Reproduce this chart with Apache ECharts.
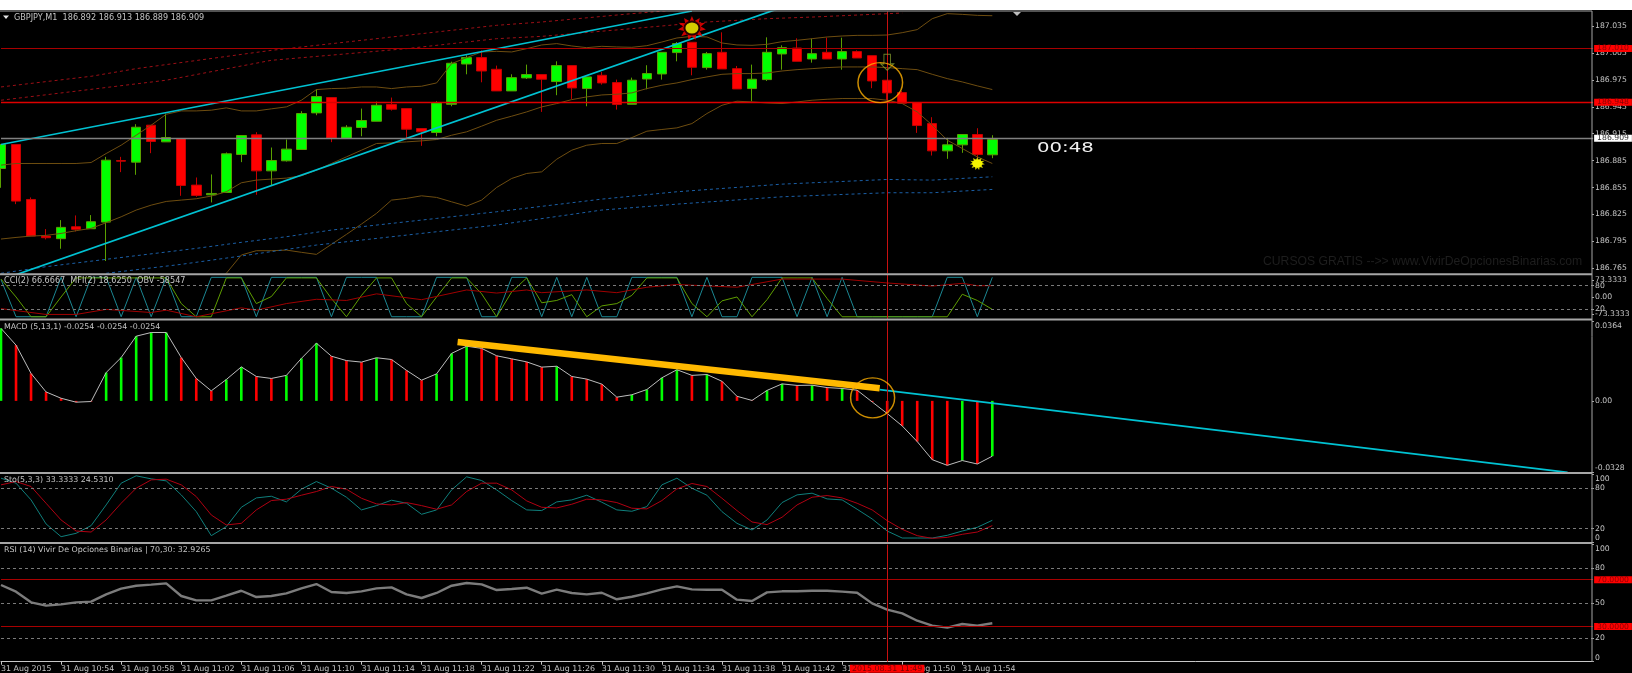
<!DOCTYPE html>
<html><head><meta charset="utf-8">
<style>html,body{margin:0;padding:0;background:#000;overflow:hidden}#c{width:1632px;height:673px}</style>
<script src="https://cdn.jsdelivr.net/npm/echarts@6/dist/echarts.min.js"></script>
</head><body><div id="c"></div>
<script>
// ---------- data ----------
const tickLabels = ['31 Aug 2015','31 Aug 10:54','31 Aug 10:58','31 Aug 11:02','31 Aug 11:06','31 Aug 11:10','31 Aug 11:14','31 Aug 11:18','31 Aug 11:22','31 Aug 11:26','31 Aug 11:30','31 Aug 11:34','31 Aug 11:38','31 Aug 11:42','31 Aug 11:46','31 Aug 11:50','31 Aug 11:54'];
const priceTicks = [186.765,186.795,186.825,186.855,186.885,186.915,186.945,186.975,187.005,187.035];
// open, close, low, high
const candles = [
[186.8762,186.9030,186.8547,186.9030],[186.9030,186.8399,186.8365,186.9030],[186.8417,186.8009,186.8009,186.8440],[186.8009,186.7991,186.7972,186.8087],
[186.7980,186.8106,186.7868,186.8187],[186.8113,186.8084,186.8061,186.8239],[186.8091,186.8169,186.8091,186.8243],[186.8165,186.8855,186.7731,186.8892],
[186.8851,186.8844,186.8722,186.8892],[186.8833,186.9222,186.8692,186.9256],[186.9245,186.9063,186.8933,186.9245],[186.9059,186.9107,186.9059,186.9375],
[186.9096,186.8573,186.8458,186.9096],[186.8577,186.8462,186.8447,186.8662],[186.8469,186.8484,186.8384,186.8696],[186.8495,186.8926,186.8495,186.8941],
[186.8918,186.9130,186.8833,186.9133],[186.9137,186.8736,186.8469,186.9167],[186.8736,186.8851,186.8577,186.8996],[186.8848,186.8978,186.8840,186.9085],
[186.8974,186.9375,186.8974,186.9401],[186.9382,186.9564,186.9356,186.9645],[186.9553,186.9100,186.9056,186.9553],[186.9100,186.9222,186.9093,186.9245],
[186.9219,186.9297,186.9122,186.9430],[186.9289,186.9467,186.9289,186.9508],[186.9475,186.9423,186.9408,186.9553],[186.9430,186.9200,186.9104,186.9430],
[186.9208,186.9171,186.9015,186.9208],[186.9163,186.9497,186.9122,186.9512],[186.9478,186.9935,186.9456,186.9953],[186.9927,186.9998,186.9812,187.0024],
[186.9998,186.9849,186.9723,187.0079],[186.9868,186.9627,186.9627,186.9909],[186.9627,186.9775,186.9627,186.9812],[186.9772,186.9809,186.9760,186.9920],
[186.9809,186.9757,186.9393,186.9809],[186.9731,186.9909,186.9579,186.9957],[186.9909,186.9660,186.9538,186.9909],[186.9653,186.9783,186.9456,186.9783],
[186.9801,186.9716,186.9697,186.9838],[186.9720,186.9475,186.9419,186.9753],[186.9478,186.9746,186.9478,186.9775],[186.9760,186.9820,186.9645,186.9913],
[186.9816,187.0057,186.9753,187.0057],[187.0054,187.0154,186.9957,187.0172],[187.0169,186.9890,186.9801,187.0169],[186.9887,187.0042,186.9864,187.0061],
[187.0057,186.9872,186.9872,187.0280],[186.9875,186.9649,186.9649,186.9905],[186.9653,186.9757,186.9512,186.9920],[186.9753,187.0057,186.9738,187.0224],
[187.0039,187.0109,186.9864,187.0135],[187.0105,186.9957,186.9957,187.0213],[186.9983,187.0042,186.9942,187.0209],[187.0057,186.9983,186.9983,187.0220],
[186.9983,187.0065,186.9864,187.0220],[187.0065,186.9994,186.9994,187.0079],[187.0020,186.9738,186.9657,187.0020],[186.9746,186.9605,186.9523,186.9746],
[186.9608,186.9490,186.9490,186.9627],[186.9497,186.9241,186.9159,186.9497],[186.9263,186.8959,186.8907,186.9334],[186.8959,186.9026,186.8870,186.9104],
[186.9026,186.9141,186.8937,186.9141],[186.9141,186.8918,186.8885,186.9211],[186.8915,186.9085,186.8877,186.9133]];
const bandUpper = [186.8800,186.8818,186.8818,186.8818,186.8818,186.8818,186.8829,186.8929,186.9022,186.9133,186.9245,186.9367,186.9404,186.9404,186.9412,186.9438,186.9404,186.9404,186.9427,186.9449,186.9523,186.9642,186.9653,186.9657,186.9671,186.9671,186.9653,186.9671,186.9679,186.9716,186.9931,186.9998,187.0061,187.0068,187.0061,187.0098,187.0139,187.0154,187.0128,187.0109,187.0124,187.0117,187.0113,187.0131,187.0172,187.0217,187.0235,187.0228,187.0161,187.0139,187.0135,187.0146,187.0176,187.0191,187.0209,187.0228,187.0239,187.0246,187.0246,187.0250,187.0276,187.0310,187.0432,187.0488,187.0480,187.0469,187.0465];
const bandMiddle = [186.7976,186.7994,186.8009,186.8017,186.8039,186.8069,186.8095,186.8158,186.8224,186.8299,186.8354,186.8395,186.8410,186.8425,186.8455,186.8503,186.8603,186.8633,186.8644,186.8655,186.8681,186.8744,186.8818,186.8892,186.8966,186.9041,186.9048,186.9059,186.9070,186.9085,186.9133,186.9171,186.9234,186.9300,186.9345,186.9393,186.9449,186.9486,186.9530,186.9560,186.9582,186.9590,186.9605,186.9653,186.9690,186.9716,186.9753,186.9783,186.9812,186.9820,186.9820,186.9827,186.9849,186.9864,186.9875,186.9887,186.9894,186.9894,186.9894,186.9887,186.9875,186.9864,186.9812,186.9764,186.9727,186.9683,186.9642];
const bandLowerStart = 14;
const bandLower = [186.7445,186.7594,186.7798,186.7846,186.7846,186.7853,186.7828,186.7805,186.7917,186.8028,186.8143,186.8262,186.8410,186.8429,186.8458,186.8440,186.8391,186.8343,186.8410,186.8551,186.8651,186.8707,186.8725,186.8866,186.8966,186.9022,186.9041,186.9041,186.9107,186.9178,186.9197,186.9215,186.9263,186.9375,186.9467,186.9512,186.9504,186.9493,186.9486,186.9504,186.9523,186.9534,186.9542,186.9542,186.9542,186.9523,186.9486,186.9393,186.9245,186.9078,186.8985,186.8892,186.8818];
const envRedUpper = [[0,186.9671],[6,186.9790],[9,186.9875],[18,187.0079],[33,187.0358],[36,187.0395],[42,187.0488],[46,187.0543]];
const envRedLower = [[0,186.9523],[11,186.9746],[18,186.9968],[27,187.0098],[33,187.0209],[36,187.0235],[42,187.0321],[47,187.0395],[51,187.0432],[54,187.0450],[60,187.0495]];
const envBlueUpper = [[0,186.7594],[3,186.7668],[7,186.7750],[13,186.7872],[16,186.7939],[19,186.8002],[22,186.8076],[29,186.8206],[33,186.8280],[40,186.8421],[45,186.8503],[52,186.8588],[59,186.8640],[62,186.8633],[66,186.8670]];
const envBlueLower = [[7,186.7594],[12,186.7694],[16,186.7787],[21,186.7909],[27,186.8020],[33,186.8132],[40,186.8299],[45,186.8365],[52,186.8447],[59,186.8492],[62,186.8492],[66,186.8529]];
const channelUpper = [[0,186.9030],[46,187.0518]];
const channelLower = [[0,186.7520],[52,187.0558]];
const priceLevels = [187.009,186.948,186.909];
const priceLevelLabels = ['187.010','186.948','186.909'];
const sunTop = [[46,187.0328]];
const sunBottom = [[65,186.8818]];
const arrowMark = [[59,186.9946]];
const circleMain = [[58.54,186.9720]];
const circleMacd = [[58.03,0.0014]];
const cursorIndex = 59;
const cursorLabel = '2015.08.31 11:49';

const cci = [75,-85,-85,-85,85,-85,85,85,-85,85,-85,85,-85,-85,85,85,85,-85,85,85,85,85,-85,85,85,85,-85,-85,-85,85,85,85,-85,-85,85,85,-85,85,-85,85,-85,-85,85,85,85,85,-85,85,-85,-85,85,85,85,-85,85,-85,85,-85,-85,-85,-85,-85,-85,85,85,-85,85];
const mfi = [97,51,0,0,51,100,100,100,100,100,100,100,34,0,0,100,100,34,52,100,100,100,47,0,55,100,100,34,0,51,100,100,59,0,64,100,36,42,57,0,28,34,55,100,100,100,34,0,41,51,0,44,100,100,100,47,0,0,0,0,0,0,0,0,58,42,19];
const obvScaled = [[0,21],[3,6],[5,6],[7,19],[10,11],[11,17],[13,0],[16,23],[17,17],[19,34],[21,45],[23,42],[25,59],[28,44],[31,69],[33,61],[35,69],[36,62],[39,69],[41,62],[43,76],[45,83],[49,76],[52,97],[54,97],[56,97],[59,87],[62,79],[64,86],[65,80],[66,80]];
const osc1Ticks = [20,80];
const cciTicks = [-73.3333,0,73.3333];

const macd = [.0333,.0256,.0126,.0041,.0012,-.0006,-.0003,.0130,.0199,.0297,.0314,.0314,.0199,.0103,.0046,.0098,.0156,.0112,.0103,.0117,.0195,.0265,.0205,.0185,.0178,.0198,.0190,.0140,.0095,.0124,.0218,.0251,.0241,.0207,.0193,.0179,.0155,.0159,.0112,.0100,.0077,.0017,.0028,.0052,.0106,.0143,.0117,.0121,.0090,.0021,.0002,.0048,.0078,.0071,.0072,.0061,.0057,.0049,-.0005,-.0058,-.0115,-.0187,-.0270,-.0296,-.0274,-.0290,-.0254];
const macdUp = [1,0,0,0,0,0,0,1,1,1,1,1,0,0,0,1,1,0,0,1,1,1,0,0,0,1,0,0,0,1,1,1,0,0,0,0,0,1,0,0,0,0,1,1,1,1,0,1,0,0,0,1,1,0,1,0,1,0,0,0,0,0,0,0,1,0,1];
const macdTicks = [-0.0328,0,0.0364];
const macdTrendThick = [[30.4,0.0270],[58.5,0.0058]];
const macdTrendThin = [[58.5,0.0052],[104.3,-0.0328]];

const stoK = [94.7,87.3,62.5,26.8,7.9,12.9,24.3,55.0,87.3,98.2,93.7,90.7,69.9,45.1,9.4,22.8,51.5,65.4,67.9,59.5,78.3,89.7,79.8,66.4,47.6,54.0,62.0,57.5,41.1,47.6,77.3,96.7,91.2,77.3,61.5,47.6,46.6,59.5,62.5,69.4,59.0,47.6,45.6,52.5,84.8,94.7,79.8,69.4,45.1,27.7,17.8,32.7,58.5,69.9,72.4,63.9,62.5,48.6,34.2,16.3,5.9,5.9,5.9,9.9,16.3,21.8,32.2];
const stoD = [84.8,89.7,82.3,57.5,32.7,16.3,14.8,32.7,57.5,79.8,92.2,93.2,84.8,67.4,40.1,25.3,27.7,47.6,61.5,63.5,69.4,74.9,82.3,78.3,64.9,56.5,55.0,58.5,54.0,48.6,55.0,74.9,87.3,87.3,77.3,61.0,51.5,50.6,56.0,63.5,62.5,58.5,50.1,49.1,61.5,78.8,86.8,82.3,64.9,46.6,29.7,25.8,36.7,55.0,66.4,68.9,65.4,57.5,47.6,31.7,18.8,9.4,5.4,6.9,11.4,14.8,24.3];
const stoTicks = [0,20,80,100];

const rsi = [65.5,59.8,50.7,47.9,49.0,50.7,51.3,57.5,62.4,64.9,65.8,66.9,56.1,52.4,52.4,56.4,60.6,55.2,56.1,58.4,62.6,66.3,59.5,58.7,60.1,62.6,63.5,57.5,54.4,58.7,64.9,67.2,66.0,61.2,62.1,63.2,58.1,61.5,58.7,57.5,58.9,53.3,55.5,58.4,61.8,64.3,61.8,61.5,61.5,53.0,51.8,59.2,60.1,60.1,60.6,60.6,59.8,58.9,49.8,44.4,41.3,35.0,30.8,29.1,32.2,30.8,32.8];
const rsiTicks = [0,20,50,80,100];
const rsiDashed = [80,50,20];
const rsiLevels = [70,30];
const rsiLevelLabels = ['70.0000','30.0000'];

const headers = {
  main:'GBPJPY,M1  186.892 186.913 186.889 186.909',
  osc:'CCI(2) 66.6667  MFI(2) 18.6250  OBV -58547',
  macd:'MACD (5,13,1) -0.0254 -0.0254 -0.0254',
  sto:'Sto(5,3,3) 33.3333 24.5310',
  rsi:'RSI (14) Vivir De Opciones Binarias | 70,30: 32.9265'
};
const timerText = '00:48';
const watermark = 'CURSOS GRATIS -->> www.VivirDeOpcionesBinarias.com';

// ---------- chart ----------
const SLOT = 106; // category slots on the shared time axis
const categories = Array.from({length:SLOT+1},(_, i)=> (i%4===0 && i/4<tickLabels.length) ? tickLabels[i/4] : '');
const idx = a => a.map((v,k)=>[k,v]);
const TXT = '#c4c4c4', SEP = '#a6a6a6', FONT='"DejaVu Sans"';
const left = 1, width = SLOT*15.02;
const grids = [[11.5,262],[275,44.5],[321.6,150.7],[474.6,67.4],[544.6,117.1]].map(([top,height])=>({left,width,top,height,show:false,containLabel:false,outerBoundsMode:'none'}));

const xAxis = grids.map((g,i)=>({
  type:'category',gridIndex:i,data:categories,boundaryGap:false,show:i===4,
  axisLine:{show:i===4,lineStyle:{color:'#c8c8c8',width:1}},
  axisTick:{show:i===4,length:3,lineStyle:{color:'#c8c8c8'},interval:(n)=>n%4===0&&n<=64},
  axisLabel:{show:i===4,color:TXT,fontFamily:FONT,fontSize:7.9,align:'left',margin:3,
    interval:(n)=>n%4===0&&n<=64,hideOverlap:false},
  splitLine:{show:false}
}));
xAxis.push({type:'value',gridIndex:0,min:0,max:SLOT,show:false,position:'top',axisLine:{onZero:false}});
xAxis.push({type:'value',gridIndex:2,min:0,max:SLOT,show:false,position:'top',axisLine:{onZero:false}});

const yAx = (gridIndex,min,max,ticks,dec,extra)=>Object.assign({
  type:'value',gridIndex,min,max,position:'right',offset:-1.1,scale:true,
  axisLine:{show:false,onZero:false},splitLine:{show:false},
  axisTick:{show:true,length:2,lineStyle:{color:SEP},customValues:ticks},
  axisLabel:{color:TXT,fontFamily:FONT,fontSize:7.7,margin:3,customValues:ticks,
    formatter:v=>Number(v).toFixed(dec)}
},extra||{});
const yAxis = [
  yAx(0,186.7592,187.0512,priceTicks,3),
  yAx(1,-7,107.5,osc1Ticks,0),
  yAx(1,-97,95,cciTicks,4,{axisLabel:{color:TXT,fontFamily:FONT,fontSize:7.7,margin:3,customValues:cciTicks,formatter:v=>v===0?'0.00':Number(v).toFixed(4)}}),
  yAx(2,-0.0328,0.0364,macdTicks,4,{axisLabel:{color:TXT,fontFamily:FONT,fontSize:7.7,margin:3,customValues:macdTicks,verticalAlignMinLabel:'bottom',verticalAlignMaxLabel:'top',formatter:v=>v===0?'0.00':Number(v).toFixed(4)}}),
  yAx(3,0,100,stoTicks,0,{axisLabel:{color:TXT,fontFamily:FONT,fontSize:7.7,margin:3,customValues:stoTicks,verticalAlignMinLabel:'bottom',verticalAlignMaxLabel:'top',formatter:v=>String(v)}}),
  yAx(4,0,100,rsiTicks,0,{axisLabel:{color:TXT,fontFamily:FONT,fontSize:7.7,margin:3,customValues:rsiTicks,verticalAlignMinLabel:'bottom',verticalAlignMaxLabel:'top',formatter:v=>String(v)}})
];

const line = (name,data,xi,yi,color,w,type,z)=>({name,type:'line',xAxisIndex:xi,yAxisIndex:yi,data,showSymbol:false,symbol:'none',smooth:false,z:z||3,
  lineStyle:{color,width:w,type:type||'solid'},silent:true});
const dashGrey = v=>({yAxis:v,lineStyle:{color:'#7a7a7a',width:1,type:[3,3]},label:{show:false}});
const cursor = (label)=>({xAxis:cursorIndex,lineStyle:{color:'#c81010',width:1,type:'solid'},
  label:label?{show:true,position:'start',distance:3,formatter:cursorLabel,color:'#7a0000',backgroundColor:'#ff0000',fontFamily:FONT,fontSize:7.9,padding:[0,2],lineHeight:8}:{show:false}});
const mk = (data)=>({silent:true,symbol:'none',animation:false,z:6,data});
const levelLabel = (txt,bg,fg)=>({show:true,position:'end',distance:1,formatter:txt,color:fg,backgroundColor:bg,fontFamily:FONT,fontSize:7.7,padding:[0,3],lineHeight:7});

const starburst = 'path://M50 0 L58 22 L78 8 L74 30 L98 28 L82 44 L100 56 L78 62 L88 84 L66 76 L62 100 L50 82 L38 100 L34 76 L12 84 L22 62 L0 56 L18 44 L2 28 L26 30 L22 8 L42 22 Z';
const arrowPath = 'path://M25 0 L75 0 L75 60 L100 60 L50 100 L0 60 L25 60 Z';

const series = [
  {name:'GBPJPY',type:'candlestick',xAxisIndex:0,yAxisIndex:0,data:candles,barWidth:10,z:2,clip:false,silent:true,
   itemStyle:{color:'#00ff00',color0:'#ff0000',borderColor:'#5aa000',borderColor0:'#c40000',borderWidth:1},
   markLine:mk([
     {yAxis:priceLevels[0],lineStyle:{color:'#a80000',width:1,type:'solid'},label:levelLabel(priceLevelLabels[0],'#ff0000','#8a0000')},
     {yAxis:priceLevels[1],lineStyle:{color:'#dd0000',width:1.4,type:'solid'},label:levelLabel(priceLevelLabels[1],'#ff0000','#8a0000')},
     {yAxis:priceLevels[2],lineStyle:{color:'#808080',width:1.4,type:'solid'},label:levelLabel(priceLevelLabels[2],'#ffffff','#333333')},
     cursor(false)
   ])},
  line('Band upper',idx(bandUpper),0,0,'#6e4d10',1),
  line('Band middle',idx(bandMiddle),0,0,'#6e4d10',1),
  line('Band lower',bandLower.map((v,k)=>[k+bandLowerStart,v]),0,0,'#6e4d10',1),
  line('Env red 1',envRedUpper,0,0,'#9c0f16',1,[3,3]),
  line('Env red 2',envRedLower,0,0,'#9c0f16',1,[3,3]),
  line('Env blue 1',envBlueUpper,0,0,'#1b5fa6',1,[3,3]),
  line('Env blue 2',envBlueLower,0,0,'#1b5fa6',1,[3,3]),
  line('Channel upper',channelUpper,0,0,'#00c2d2',1.7,'solid',4),
  line('Channel lower',channelLower,0,0,'#00c2d2',1.7,'solid',4),
  {type:'scatter',xAxisIndex:0,yAxisIndex:0,data:sunTop,symbol:starburst,symbolSize:[28,24],z:7,silent:true,itemStyle:{color:'#ff0000'}},
  {type:'scatter',xAxisIndex:0,yAxisIndex:0,data:sunTop,symbol:'circle',symbolSize:[17,15],z:8,silent:true,itemStyle:{color:'#000'}},
  {type:'scatter',xAxisIndex:0,yAxisIndex:0,data:sunTop,symbol:'circle',symbolSize:[13,11],z:9,silent:true,itemStyle:{color:'#ffff00'}},
  {type:'scatter',xAxisIndex:0,yAxisIndex:0,data:sunBottom,symbol:starburst,symbolSize:[15,13],z:9,silent:true,itemStyle:{color:'#ffff00'}},
  {type:'scatter',xAxisIndex:0,yAxisIndex:0,data:sunBottom,symbol:'circle',symbolSize:[10,8],z:9,silent:true,itemStyle:{color:'#ffff00'}},
  {type:'scatter',xAxisIndex:0,yAxisIndex:0,data:arrowMark,symbol:arrowPath,symbolSize:[13,16],z:7,silent:true,itemStyle:{color:'rgba(0,0,0,0)',borderColor:'#86a030',borderWidth:1}},
  {type:'scatter',xAxisIndex:5,yAxisIndex:0,data:circleMain,symbol:'circle',symbolSize:[44.6,40],z:10,clip:false,silent:true,itemStyle:{color:'rgba(0,0,0,0)',borderColor:'#ffb000',borderWidth:1.4}},

  line('CCI',cci.map((v,k)=>[k,v]),1,2,'#1b8793',1),
  line('MFI',idx(mfi),1,1,'#5f9e00',1),
  Object.assign(line('OBV',obvScaled,1,1,'#a00000',1),{markLine:mk([dashGrey(80),dashGrey(20),cursor(false)])}),

  {name:'MACD',type:'bar',xAxisIndex:2,yAxisIndex:3,data:macd,barWidth:2.6,z:2,silent:true,clip:false,
   itemStyle:{color:p=>macdUp[p.dataIndex]?'#00ff00':'#ff0000'},markLine:mk([cursor(false)])},
  line('MACD line',idx(macd),2,3,'#bdbdbd',1),
  line('MACD trend thin',macdTrendThin,6,3,'#00c2d2',1.7,'solid',4),
  line('MACD trend thick',macdTrendThick,6,3,'#ffb900',6.5,'solid',5),
  {type:'scatter',xAxisIndex:6,yAxisIndex:3,data:circleMacd,symbol:'circle',symbolSize:[44,40],z:10,clip:false,silent:true,itemStyle:{color:'rgba(0,0,0,0)',borderColor:'#ffb000',borderWidth:1.4}},

  line('Sto K',idx(stoK),3,4,'#0f7f7c',1),
  Object.assign(line('Sto D',idx(stoD),3,4,'#b00012',1),{markLine:mk([dashGrey(80),dashGrey(20),cursor(false)])}),

  Object.assign(line('RSI',idx(rsi),4,5,'#7c7c7c',2.4),{markLine:mk([
    ...rsiDashed.map(dashGrey),
    {yAxis:rsiLevels[0],lineStyle:{color:'#a80000',width:1.2,type:'solid'},label:levelLabel(rsiLevelLabels[0],'#ff0000','#8a0000')},
    {yAxis:rsiLevels[1],lineStyle:{color:'#a80000',width:1.2,type:'solid'},label:levelLabel(rsiLevelLabels[1],'#ff0000','#8a0000')},
    cursor(true)
  ])})
];

const hdr = (text,x,y,size)=>({type:'text',silent:true,z:20,style:{text,x,y,fill:TXT,font:(size||7.9)+'px '+FONT,verticalAlign:'middle'}});
const sep = (y,w,c)=>({type:'line',silent:true,z:15,shape:{x1:0,y1:y,x2:1592,y2:y},style:{stroke:c||SEP,lineWidth:w}});
const graphic = [
  {type:'rect',silent:true,z:16,shape:{x:0,y:0,width:1632,height:10},style:{fill:'#ffffff'}},
  sep(11,1),sep(274.3,2),sep(319.5,2),sep(472.9,2),sep(543,2),
  {type:'line',silent:true,z:15,shape:{x1:1592,y1:11,x2:1592,y2:662},style:{stroke:SEP,lineWidth:1}},
  {type:'polygon',silent:true,z:20,shape:{points:[[3,15.5],[9,15.5],[6,19]]},style:{fill:'#e6e6e6'}},
  {type:'polygon',silent:true,z:20,shape:{points:[[1013,12],[1021,12],[1017,16]]},style:{fill:'#bdbdbd'}},
  hdr(headers.main,14,17.5,8.1),hdr(headers.osc,4,281.3,8.1),hdr(headers.macd,4,326.7),hdr(headers.sto,4,480.3),hdr(headers.rsi,4,550.3),
  {type:'text',silent:true,z:3,style:{text:watermark,x:1263,y:262,fill:'#1e1e1e',font:'12.2px "Liberation Sans"',verticalAlign:'middle'}},
  {type:'text',silent:true,z:20,x:1037,y:148,scaleX:1.45,scaleY:1,style:{text:timerText,x:0,y:0,fill:'#f0f0f0',font:'13.6px "DejaVu Sans"',verticalAlign:'middle'}}
];

const chart = echarts.init(document.getElementById('c'),null,{renderer:'canvas',width:1632,height:673});
chart.setOption({backgroundColor:'#000',animation:false,grid:grids,xAxis,yAxis,series,graphic,tooltip:{show:false}});
</script></body></html>
